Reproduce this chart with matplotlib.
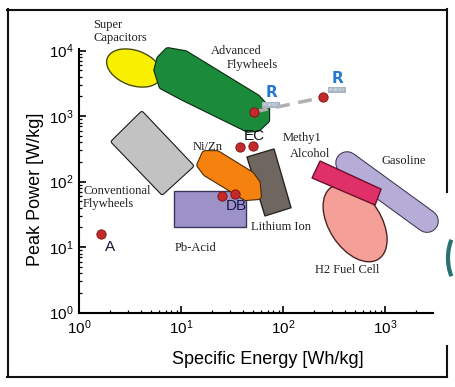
import matplotlib
matplotlib.use('Agg')
import matplotlib.pyplot as plt
from matplotlib.patches import Polygon, Ellipse, Arc
from matplotlib.lines import Line2D
from matplotlib import transforms

plt.rcParams['font.family'] = ['Liberation Sans', 'DejaVu Sans']

# regions, specific energy [Wh/kg] vs peak power [W/kg]
adv_flywheel_E = [7.4, 10.9, 55, 68, 68, 56, 45, 10.4, 6.5, 5.8, 6.2]
adv_flywheel_P = [9900, 8900, 1900, 1330, 875, 660, 640, 1960, 2890, 5070, 7470]
conv_flywheel_E = [4.1, 12.6, 6.5, 2.15]
conv_flywheel_P = [1100, 174, 68, 408]
pb_acid_E = [8.5, 43, 43, 8.5]
pb_acid_P = [72, 72, 20, 20]
nizn_E = [17.1, 22.4, 48, 55, 56.5, 43, 17.5, 15.3]
nizn_P = [265, 265, 127, 95, 60, 58, 136, 180]
li_ion_E = [44, 81, 119, 66]
li_ion_P = [238, 316, 40, 30]
methyl_E = [229, 907, 793, 191]
methyl_P = [207, 77, 44, 114]
gasoline_E = [421, 2560]
gasoline_P = [193, 25]
supercap_EP = (3.44, 5440)
h2_EP = (505, 23.4)

# test points
pts_E = [1.62, 24.9, 33.8, 37.6, 50.1]
pts_P = [15.9, 61.1, 64.2, 342, 351]
ricardo_E = [51.6, 243]
ricardo_P = [1160, 1940]

fig = plt.figure(figsize=(4.55, 3.87), dpi=100)
ax = fig.add_axes([0.1743, 0.192, 0.778, 0.6806])
ax.set_xscale('log')
ax.set_yscale('log')
ax.set_xlim(1, 2950)
ax.set_ylim(1, 1.05e4)
for s in ['top', 'right']:
    ax.spines[s].set_visible(False)
for s in ['left', 'bottom']:
    ax.spines[s].set_linewidth(1.5)
ax.tick_params(which='major', direction='in', length=5, width=1.2, labelsize=11, pad=4)
ax.tick_params(which='minor', direction='in', length=2.5, width=0.9)
ax.set_xticks([1, 10, 100, 1000])
ax.set_yticks([1, 10, 100, 1000, 10000])
ax.set_xlabel('Specific Energy [Wh/kg]', fontsize=13)
ax.set_ylabel('Peak Power [W/kg]', fontsize=13)
ax.xaxis.set_label_coords(0.532, -0.145)
ax.yaxis.set_label_coords(-0.10, 0.47)


def rounded(E, P, fc, ec, lw, z):
    xy = list(zip(E, P))
    ax.add_patch(Polygon(xy, closed=True, fc=fc, ec=ec, lw=lw + 1.6,
                         joinstyle='round', zorder=z, clip_on=False))
    ax.add_patch(Polygon(xy, closed=True, fc=fc, ec=fc, lw=lw,
                         joinstyle='round', zorder=z, clip_on=False))


def ellipse(center, w, h, ang, fc, ec, z):
    tr = fig.dpi_scale_trans + transforms.ScaledTranslation(center[0], center[1], ax.transData)
    ax.add_patch(Ellipse((0, 0), w, h, angle=ang, fc=fc, ec=ec, lw=1.0,
                         transform=tr, zorder=z, clip_on=False))


ellipse(supercap_EP, 0.57, 0.35, -20, '#f8f000', '#4a4a10', 2)
rounded(adv_flywheel_E, adv_flywheel_P, '#1b8a3a', '#0c2a12', 4, 3)
rounded(conv_flywheel_E, conv_flywheel_P, '#c2c2c2', '#1a1a1a', 2, 3)
ax.add_patch(Polygon(list(zip(pb_acid_E, pb_acid_P)), closed=True, fc='#9c92c8',
                     ec='#3a3858', lw=1.0, zorder=2))
ax.add_patch(Polygon(list(zip(li_ion_E, li_ion_P)), closed=True, fc='#6f6660',
                     ec='#2a2624', lw=1.0, zorder=3))
rounded(nizn_E, nizn_P, '#f5820f', '#4a2a08', 4, 4)

ax.plot(gasoline_E, gasoline_P, color='#3a3450', lw=17, solid_capstyle='round',
        zorder=2, clip_on=False)
ax.plot(gasoline_E, gasoline_P, color='#b6acd8', lw=15.5, solid_capstyle='round',
        zorder=2, clip_on=False)
ellipse(h2_EP, 0.86, 0.52, -57, '#f4a098', '#4a2424', 3)
ax.add_patch(Polygon(list(zip(methyl_E, methyl_P)), closed=True, fc='#e0306a',
                     ec='#6a1028', lw=1.0, zorder=4))

# ricardo link
ax.plot(ricardo_E, ricardo_P, color='#b0b0b0', lw=2.5, ls=(0, (4, 2.5)), zorder=5)
ax.scatter(pts_E + ricardo_E, pts_P + ricardo_P, s=45, color='#c42a2a',
           edgecolors='#7a1010', linewidths=0.6, zorder=6, clip_on=False)

for x, yR, yT in [(75.8, 2300, 1480), (336, 3800, 2500)]:
    ax.text(x, yR, 'R', ha='center', va='center', fontsize=11, fontweight='bold',
            color='#2878d0', family='DejaVu Sans', zorder=7)
    ax.text(x, yT, 'RICARDO', ha='center', va='center', fontsize=2.5, color='#e8eef5',
            zorder=7, bbox=dict(boxstyle='square,pad=0.25', fc='#a8b4c4', ec='none'))

ax.text(1.98, 10.2, 'A', ha='center', va='center', fontsize=11, color='#15153a', zorder=7)
ax.text(34.4, 43.3, 'DB', ha='center', va='center', fontsize=11, color='#18184a', zorder=7)
ax.text(51.4, 495, 'EC', ha='center', va='center', fontsize=11, color='#101010', zorder=7)

serif = dict(family=['Liberation Serif', 'DejaVu Serif'], fontsize=9, color='#202020',
             ha='left', va='center', linespacing=1.05, zorder=8)
ax.text(1.37, 19500, 'Super\nCapacitors', **serif)
ax.text(19.4, 10000, 'Advanced', **serif)
ax.text(27.9, 6050, 'Flywheels', **serif)
ax.text(12.9, 342, 'Ni/Zn', **serif)
ax.text(98.6, 470, 'Methy1', **serif)
ax.text(116, 265, 'Alcohol', **serif)
ax.text(907, 209, 'Gasoline', **serif)
ax.text(1.09, 57, 'Conventional\nFlywheels', **serif)
ax.text(8.67, 9.83, 'Pb-Acid', **serif)
ax.text(47.9, 20.6, 'Lithium Ion', **serif)
ax.text(205, 4.49, 'H2 Fuel Cell', **serif)

# frame around the picture
W, H = 455, 387
def fl(x0, y0, x1, y1):
    fig.add_artist(Line2D([x0 / W, x1 / W], [1 - y0 / H, 1 - y1 / H], color='#111111',
                          lw=1.5, transform=fig.transFigure))
fl(7, 9.5, 447, 9.5)
fl(7.5, 9, 7.5, 377)
fl(7, 376.5, 447, 376.5)
fl(446.5, 9, 446.5, 192)
fl(446.5, 346, 446.5, 377)
fig.add_artist(Arc((482 / W, 1 - 258 / H), 2 * 34 / W, 2 * 42 / H, theta1=145, theta2=215,
                   color='#2a7272', lw=3, transform=fig.transFigure))

fig.savefig('out.png', dpi=100)
